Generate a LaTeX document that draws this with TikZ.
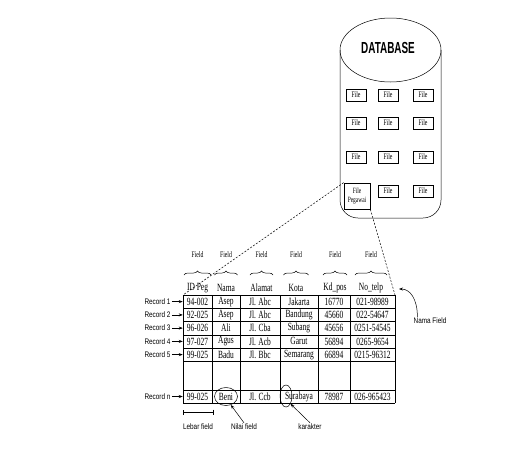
\documentclass[tikz,border=0pt]{standalone}
\usepackage{fontspec}
\setmainfont{Liberation Serif}[FakeStretch=0.68]
\newfontfamily\narrowsf{Liberation Sans}[FakeStretch=0.8]
\newfontfamily\dbfont{Liberation Sans}[FakeStretch=0.62]
\usepackage{tikz}
\usetikzlibrary{positioning, arrows.meta, calc, shapes.geometric, decorations.pathreplacing}

\begin{document}
\begin{tikzpicture}[x=1pt, y=-1pt, >={Stealth[length=4pt, width=3pt]}, line width=0.5pt,
  cell/.style={inner sep=0pt, font=\fontsize{11}{11}\selectfont},
  filebox/.style={draw, line width=0.7pt, minimum width=20, minimum height=12, inner sep=1pt, font=\fontsize{8.5}{8.5}\selectfont},
  lbl/.style={inner sep=1pt, font=\narrowsf\fontsize{8}{8}\selectfont},
  fld/.style={inner sep=1pt, font=\fontsize{8.5}{8.5}\selectfont},
  ring/.style={draw, ellipse, inner sep=0pt}]
  \useasboundingbox (0,0) rectangle (526,464);
  \draw (390.5,50) ellipse (50.5 and 32);
  \draw[rounded corners=18] (340,50) -- (340,218) -- (441,218) -- (441,50);
  \node[font=\dbfont\bfseries\fontsize{16}{16}\selectfont] (db) at (388,48) {DATABASE};
  \foreach \y [count=\r] in {95,123,157}
    \foreach \x [count=\c] in {356,388,423}
      \node[filebox] (file\r\c) at (\x,\y) {File};
  \node[filebox] (file42) at (388,191) {File};
  \node[filebox] (file43) at (423,191) {File};
  \node[filebox, minimum width=26, minimum height=26, align=center, font=\fontsize{8}{9}\selectfont] (peg) at (357,196) {File\\Pegawai};
  \foreach \x in {183,212,240,280,318,350,395} \draw (\x,295) -- (\x,403);
  \foreach \y in {295,308.25,321.5,334.75,348,361.25,390,403} \draw (183,\y) -- (395,\y);
  \foreach \x/\w/\t [count=\k] in {197.5/13.5/ID Peg, 226/11.5/Nama, 261.5/11.5/Alamat, 296/12.5/Kota, 335/12/Kd\_pos, 371/16/No\_telp} {
    \node[cell] (h\k) at (\x,288) {\t};
    \node[fld] (fl\k) at (\x,255) {Field};
    \draw[decorate, decoration={brace, amplitude=4pt}] (\x-\w,275) -- (\x+\w,275);
  }
  \foreach \y/\r/\a/\b/\c/\d/\e/\f in {301.6/1/94-002/Asep/Jl. Abc/Jakarta/16770/021-98989,
      314.9/2/92-025/Asep/Jl. Abc/Bandung/45660/022-54647,
      328.1/3/96-026/Ali/Jl. Cba/Subang/45656/0251-54545,
      341.4/4/97-027/Agus/Jl. Acb/Garut/56894/0265-9654,
      354.6/5/99-025/Badu/Jl. Bbc/Semarang/66894/0215-96312,
      396.5/n/99-025/Beni/Jl. Ccb/Surabaya/78987/026-965423} {
    \node[cell, minimum width=29] (id\r) at (197.5,\y) {\a};
    \node[cell] (nm\r) at (226,\y) {\b};
    \node[cell] (al\r) at (260,\y) {\c};
    \node[cell] (kt\r) at (299,\y) {\d};
    \node[cell] (kp\r) at (334,\y) {\e};
    \node[cell] (tl\r) at (372.5,\y) {\f};
    \node[lbl, left=11pt of id\r] (rec\r) {Record \r};
    \draw[->] (rec\r) -- (id\r);
  }
  \coordinate (tl) at (183,295);
  \coordinate (tr) at (395,295);
  \draw[dash pattern=on 2pt off 1.5pt] (peg.north west) -- (tl);
  \draw[dash pattern=on 2pt off 1.5pt] (peg.south east) -- (tr);
  \node[lbl] (namaf) at (430,321) {Nama Field};
  \coordinate (nfend) at (399,289);
  \draw[->] ($(namaf.north west)+(5,0)$) .. controls +(0,-18) and (410,289) .. (nfend);
  \draw[{Bar[width=5pt]}-{Bar[width=5pt]}] (183,412) -- (213,412);
  \node[lbl] (lebar) at (198,427) {Lebar field};
  \node[ring, minimum width=23, minimum height=18] (beniring) at (nmn) {};
  \node[ring, minimum width=12, minimum height=22] (charring) at (286,396) {};
  \node[lbl] (nilai) at (244,427) {Nilai field};
  \node[lbl] (karakter) at (310,427) {karakter};
  \draw[->] (nilai.north) -- (beniring.-60);
  \draw[->] (karakter.north) -- (charring.-60);
\end{tikzpicture}
\end{document}
